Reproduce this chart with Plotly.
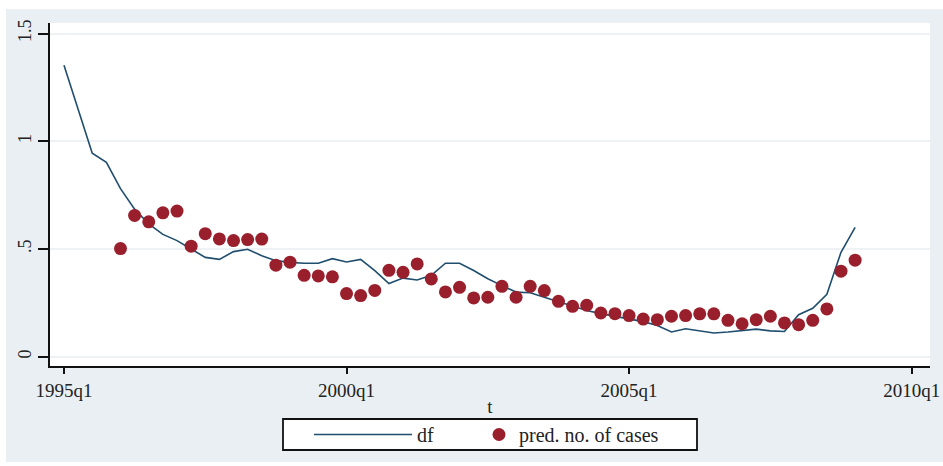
import plotly.graph_objects as go

# Stata quarterly dates: 1995q1 = 140
t_start = 140
df_values = [
    1.353, 1.15, 0.945, 0.902, 0.78, 0.685, 0.616, 0.568, 0.539, 0.50,
    0.461, 0.452, 0.488, 0.499, 0.469, 0.446, 0.438, 0.434, 0.434, 0.455,
    0.44, 0.452, 0.40, 0.34, 0.365, 0.356, 0.378, 0.434, 0.434, 0.40,
    0.362, 0.33, 0.30, 0.297, 0.275, 0.255, 0.235, 0.215, 0.20, 0.188,
    0.178, 0.163, 0.145, 0.115, 0.13, 0.12, 0.11, 0.115, 0.12, 0.128,
    0.12, 0.117, 0.195, 0.225, 0.29, 0.485, 0.60,
]
pred_start = 144  # 1996q1
pred_values = [
    0.502, 0.656, 0.626, 0.668, 0.676, 0.513, 0.571, 0.547, 0.539, 0.544,
    0.546, 0.425, 0.439, 0.378, 0.375, 0.371, 0.293, 0.284, 0.308, 0.401,
    0.392, 0.431, 0.361, 0.301, 0.322, 0.273, 0.276, 0.327, 0.276, 0.327,
    0.307, 0.257, 0.234, 0.239, 0.203, 0.200, 0.191, 0.175, 0.172, 0.188,
    0.191, 0.199, 0.199, 0.169, 0.153, 0.172, 0.188, 0.157, 0.149, 0.169,
    0.222, 0.397, 0.448,
]
x_tickvals = [140, 160, 180, 200]
x_ticktext = ["1995q1", "2000q1", "2005q1", "2010q1"]
y_tickvals = [0, 0.5, 1, 1.5]
y_ticktext = ["0", ".5", "1", "1.5"]

t_df = list(range(t_start, t_start + len(df_values)))
t_pred = list(range(pred_start, pred_start + len(pred_values)))

NAVY = "#1f4e6e"
MAROON = "#9a1f2c"
REGION = "#e9eff2"
FONT = "Liberation Serif"
TXT = "#222"

fig = go.Figure()
fig.add_trace(go.Scatter(
    x=t_df, y=df_values, mode="lines", name="df",
    line=dict(color=NAVY, width=1.6), legend="legend",
))
fig.add_trace(go.Scatter(
    x=t_pred, y=pred_values, mode="markers", name="pred. no. of cases",
    marker=dict(color=MAROON, size=13, line=dict(width=0)), legend="legend2",
))

W, H = 943, 466
L, R, T, B = 50, 13, 23, 100
pw, ph = W - L - R, H - T - B


def px_x(v):
    return (v - L) / pw


def px_y(v):
    return (H - B - v) / ph


shapes = [
    # thin white border around the grey graph region
    dict(type="rect", xref="paper", yref="paper", layer="below",
         x0=px_x(0), x1=px_x(W), y0=px_y(0), y1=px_y(9),
         fillcolor="white", line=dict(width=0)),
    dict(type="rect", xref="paper", yref="paper", layer="below",
         x0=px_x(0), x1=px_x(6), y0=px_y(0), y1=px_y(H),
         fillcolor="white", line=dict(width=0)),
    dict(type="rect", xref="paper", yref="paper", layer="below",
         x0=px_x(0), x1=px_x(W), y0=px_y(462), y1=px_y(H),
         fillcolor="white", line=dict(width=0)),
    # shared frame around both legend entries
    dict(type="rect", xref="paper", yref="paper", layer="below",
         x0=px_x(283), x1=px_x(697), y0=px_y(450), y1=px_y(419),
         fillcolor="white", line=dict(color="#111", width=1.8)),
]

legend_common = dict(
    orientation="h", yanchor="middle", y=px_y(434.5), xanchor="left",
    bgcolor="rgba(0,0,0,0)", borderwidth=0,
    font=dict(family=FONT, size=20, color=TXT),
)

fig.update_layout(
    width=W, height=H,
    margin=dict(l=L, r=R, t=T, b=B, pad=0, autoexpand=False),
    paper_bgcolor=REGION,
    plot_bgcolor="white",
    font=dict(family=FONT, size=18, color=TXT),
    shapes=shapes,
    showlegend=True,
    legend=dict(legend_common, x=px_x(309), itemwidth=98),
    legend2=dict(legend_common, x=px_x(479), itemwidth=30),
    xaxis=dict(
        range=[t_start - 0.99, t_start + 61.3],
        tickvals=x_tickvals, ticktext=x_ticktext,
        ticks="outside", ticklen=6, tickwidth=1.5, tickcolor="#111",
        showline=True, linecolor="#111", linewidth=1.8,
        showgrid=False, zeroline=False,
        title=dict(text="t", standoff=0, font=dict(family=FONT, size=19)),
        tickfont=dict(family=FONT, size=19, color=TXT),
    ),
    yaxis=dict(
        range=[-0.043, 1.549],
        tickvals=y_tickvals, ticktext=y_ticktext,
        tickangle=-90,
        ticks="outside", ticklen=10, tickwidth=1.5, tickcolor="#111",
        showline=True, linecolor="#111", linewidth=1.8,
        showgrid=True, gridcolor="#eef2f4", gridwidth=1.5,
        zeroline=False,
        tickfont=dict(family=FONT, size=18, color=TXT),
    ),
)

fig.write_html("out.html")
